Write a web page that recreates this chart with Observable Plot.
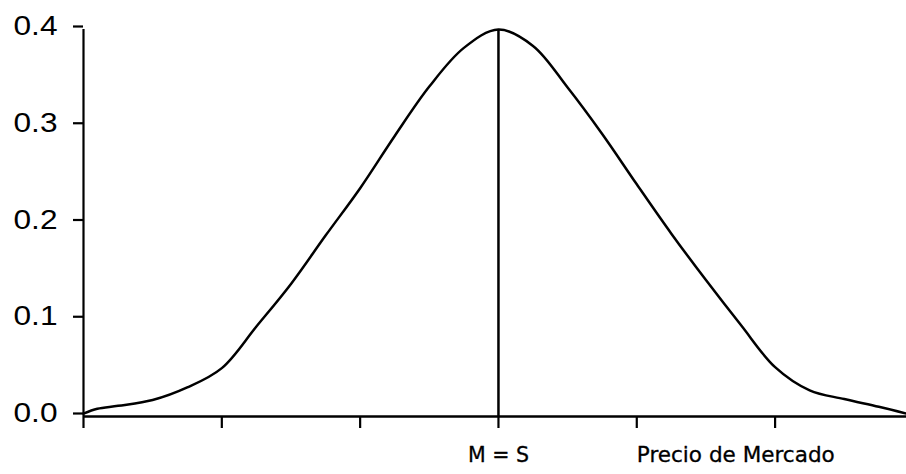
<!DOCTYPE html>
<html>
<head>
<meta charset="utf-8">
<script src="https://cdn.jsdelivr.net/npm/d3@7"></script>
<script src="https://cdn.jsdelivr.net/npm/@observablehq/plot@0.6"></script>
<style>
  html, body { margin: 0; padding: 0; background: #fff; }
  #chart svg { display: block; }
</style>
</head>
<body>
<div id="chart"></div>
<script>
// Price (in standard deviations from the strike) and probability density
const precio = [-3, -2.9, -2.75, -2.5, -2.25, -2, -1.75, -1.5, -1.25, -1, -0.75, -0.5, -0.25, 0,
                0.25, 0.5, 0.75, 1, 1.25, 1.5, 1.75, 2, 2.25, 2.5, 2.75, 2.95];
const densidad = [0.003, 0.008, 0.011, 0.017, 0.030, 0.050, 0.093, 0.137, 0.187, 0.236, 0.290, 0.341, 0.381, 0.400,
                  0.383, 0.340, 0.292, 0.240, 0.189, 0.141, 0.095, 0.051, 0.027, 0.018, 0.010, 0.003];

const yTicks = [0, 0.1, 0.2, 0.3, 0.4];
const xTicks = [-3, -2, -1, 0, 1, 2];

// Annotations under the horizontal axis
const labelX = [0, 1];
const labelText = ["M = S", "Precio de Mercado"];
const labelAnchor = ["middle", "start"];
const labelWidth = [61, 198];

const curve = precio.map((x, i) => ({x, y: densidad[i]}));
const peak = curve.find(d => d.x === 0).y;
const labels = labelX.map((x, i) => ({x, text: labelText[i], anchor: labelAnchor[i], w: labelWidth[i]}));

const labelFont = {fontSize: 21, fontFamily: "DejaVu Sans, Verdana, sans-serif", fill: "#000", stroke: "#000", strokeWidth: 0.3, dy: 39};

const chart = Plot.plot({
  width: 906,
  height: 474,
  marginLeft: 83,
  marginRight: 0,
  marginTop: 29,
  marginBottom: 58,
  style: {background: "#fff", color: "#000"},
  x: {domain: [-3, 2.95]},
  y: {domain: [0, 0.4]},
  marks: [
    Plot.axisY({
      ticks: yTicks,
      tickFormat: d3.format(".1f"),
      tickSize: 10,
      tickPadding: 16,
      strokeWidth: 2.2,
      fontSize: 27,
      fontFamily: "Liberation Sans, Arial, sans-serif",
      dy: -3,
      label: null
    }),
    Plot.axisX({
      ticks: xTicks,
      tickSize: 12,
      strokeWidth: 2.2,
      tickFormat: () => "",
      label: null
    }),
    Plot.ruleX([-3], {y1: 0, y2: 0.4, strokeWidth: 2.2}),
    Plot.ruleY([0], {strokeWidth: 2.5}),
    Plot.ruleX([0], {y1: 0, y2: peak, strokeWidth: 2.5}),
    Plot.line(curve, {x: "x", y: "y", curve: "catmull-rom", stroke: "#000", strokeWidth: 2.5}),
    Plot.text(labels.filter(d => d.anchor === "middle"), {
      x: "x", y: () => 0, text: "text", textAnchor: "middle", ...labelFont
    }),
    Plot.text(labels.filter(d => d.anchor === "start"), {
      x: "x", y: () => 0, text: "text", textAnchor: "start", ...labelFont
    })
  ]
});

// Widen the tick labels of the vertical axis
d3.select(chart).selectAll("g[aria-label='y-axis tick label'] text")
  .attr("textLength", 44)
  .attr("lengthAdjust", "spacingAndGlyphs");

// Fit the annotation texts to their widths
d3.select(chart).selectAll("g[aria-label='text'] text")
  .each(function() {
    const t = this.textContent;
    const l = labels.find(d => d.text === t);
    if (l) d3.select(this).attr("textLength", l.w).attr("lengthAdjust", "spacingAndGlyphs");
  });

document.getElementById("chart").append(chart);
</script>
</body>
</html>
